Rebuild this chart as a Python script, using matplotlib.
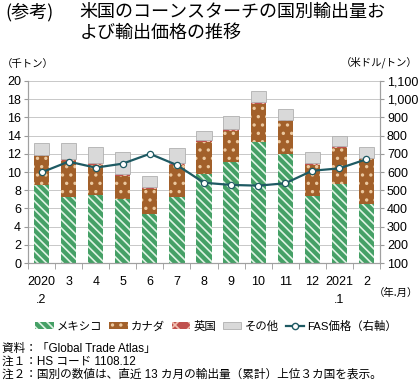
import numpy as np
import matplotlib.pyplot as plt
from matplotlib.patches import Patch
from matplotlib.lines import Line2D

plt.rcParams['font.family'] = ['Liberation Sans', 'Noto Sans CJK JP', 'DejaVu Sans']
plt.rcParams['hatch.linewidth'] = 1.2

# データ（千トン、米ドル/トン）
months = ['2020\n.2', '3', '4', '5', '6', '7', '8', '9', '10', '11', '12', '2021\n.1', '2']
mexico = [8.6, 7.3, 7.5, 7.0, 5.4, 7.2, 9.8, 11.05, 13.25, 11.95, 7.4, 8.65, 6.5]
canada = [3.2, 3.9, 3.3, 2.6, 2.7, 3.55, 3.45, 3.45, 4.2, 3.65, 3.35, 4.0, 4.9]
uk = [0.1, 0.2, 0.2, 0.15, 0.2, 0.25, 0.25, 0.2, 0.2, 0.1, 0.2, 0.25, 0.1]
others = [1.25, 1.75, 1.7, 2.4, 1.25, 1.65, 1.0, 1.4, 1.25, 1.2, 1.25, 1.1, 1.2]
fas = [598, 657, 624, 646, 700, 638, 541, 529, 525, 538, 607, 620, 670]

c_mex = '#45A066'
c_can = '#A2602A'
c_uk = '#C0504D'
c_oth = '#D9D9D9'
c_line = '#1E5A63'

fig = plt.figure(figsize=(4.2, 3.87), dpi=100)
ax = fig.add_axes([0.0667, 0.3204, 0.838, 0.4703])
ax2 = ax.twinx()

x = np.arange(len(months))
w = 0.56
b1 = np.array(mexico)
b2 = b1 + np.array(canada)
b3 = b2 + np.array(uk)

ax.bar(x, mexico, w, color=c_mex, edgecolor='#dff3e4', hatch='\\\\\\\\', linewidth=0, zorder=2)
ax.bar(x, canada, w, bottom=b1, color=c_can, edgecolor='#ecc9a0', hatch='..', linewidth=0, zorder=2)
ax.bar(x, uk, w, bottom=b2, color=c_uk, edgecolor='#f0c0b0', hatch='xx', linewidth=0, zorder=2)
ax.bar(x, others, w, bottom=b3, color=c_oth, edgecolor='#b0b0b0', linewidth=0.6, zorder=2)

ax2.plot(x, fas, color=c_line, lw=1.6, marker='o', ms=4.5, mfc='white', mec=c_line, mew=0.9, zorder=3)

ax.set_xlim(-0.5, 12.5)
ax.set_ylim(0, 20)
ax.set_yticks(range(0, 21, 2))
ax2.set_ylim(100, 1100)
ax2.set_yticks(range(100, 1101, 100))
ax2.set_yticklabels([f'{v:,}' for v in range(100, 1101, 100)])
ax.grid(axis='y', color='#c8c8c8', lw=0.7, zorder=0)
ax.set_axisbelow(True)
ax.set_xticks(x)
ax.set_xticklabels(months, fontsize=9, linespacing=1.7)
ax.set_xticks(np.arange(-0.5, 13, 1), minor=True)
ax.tick_params(axis='x', which='major', length=0, pad=9)
ax.tick_params(axis='x', which='minor', length=4, color='#999999')
ax.tick_params(axis='y', labelsize=9, length=3, color='#999999', pad=2)
ax2.tick_params(axis='y', labelsize=9, length=3, color='#999999', pad=2)
for a in (ax, ax2):
    a.spines['top'].set_visible(False)
    for s in ('left', 'right', 'bottom'):
        a.spines[s].set_color('#a0a0a0')
        a.spines[s].set_linewidth(0.8)

# タイトル・単位
fig.text(0.012, 0.968, '(参考)', fontsize=13, va='center', family=['Noto Sans CJK JP'])
fig.text(0.19, 0.968, '米国のコーンスターチの国別輸出量お', fontsize=13, va='center', family=['Noto Sans CJK JP'])
fig.text(0.19, 0.914, 'よび輸出価格の推移', fontsize=13, va='center', family=['Noto Sans CJK JP'])
fig.text(0.005, 0.835, '（千トン）', fontsize=7.5, va='center', family=['Noto Sans CJK JP'])
fig.text(0.995, 0.838, '（米ドル/トン）', fontsize=7.5, va='center', ha='right', family=['Noto Sans CJK JP'])
fig.text(0.995, 0.243, '（年.月）', fontsize=7.5, va='center', ha='right', family=['Noto Sans CJK JP'])

handles = [
    Patch(facecolor=c_mex, edgecolor='#dff3e4', hatch='\\\\\\\\', linewidth=0),
    Patch(facecolor=c_can, edgecolor='#ecc9a0', hatch='..', linewidth=0),
    Patch(facecolor=c_uk, edgecolor='#f0c0b0', hatch='xx', linewidth=0),
    Patch(facecolor=c_oth, edgecolor='#b0b0b0', linewidth=0.6),
    Line2D([], [], color=c_line, lw=1.6, marker='o', ms=4.5, mfc='white', mec=c_line),
]
labels = ['メキシコ', 'カナダ', '英国', 'その他', 'FAS価格（右軸）']
fig.legend(handles, labels, loc='center', bbox_to_anchor=(0.515, 0.158), ncol=5, frameon=False,
           fontsize=8.2, handlelength=1.6, handleheight=0.6, handletextpad=0.3, columnspacing=0.6)

fig.text(0.005, 0.097, '資料：「Global Trade Atlas」', fontsize=8.4, va='center')
fig.text(0.005, 0.065, '注１：HS コード 1108.12', fontsize=8.4, va='center')
fig.text(0.005, 0.033, '注２：国別の数値は、直近 13 カ月の輸出量（累計）上位３カ国を表示。', fontsize=8.4, va='center')

fig.savefig('out.png', dpi=100)
